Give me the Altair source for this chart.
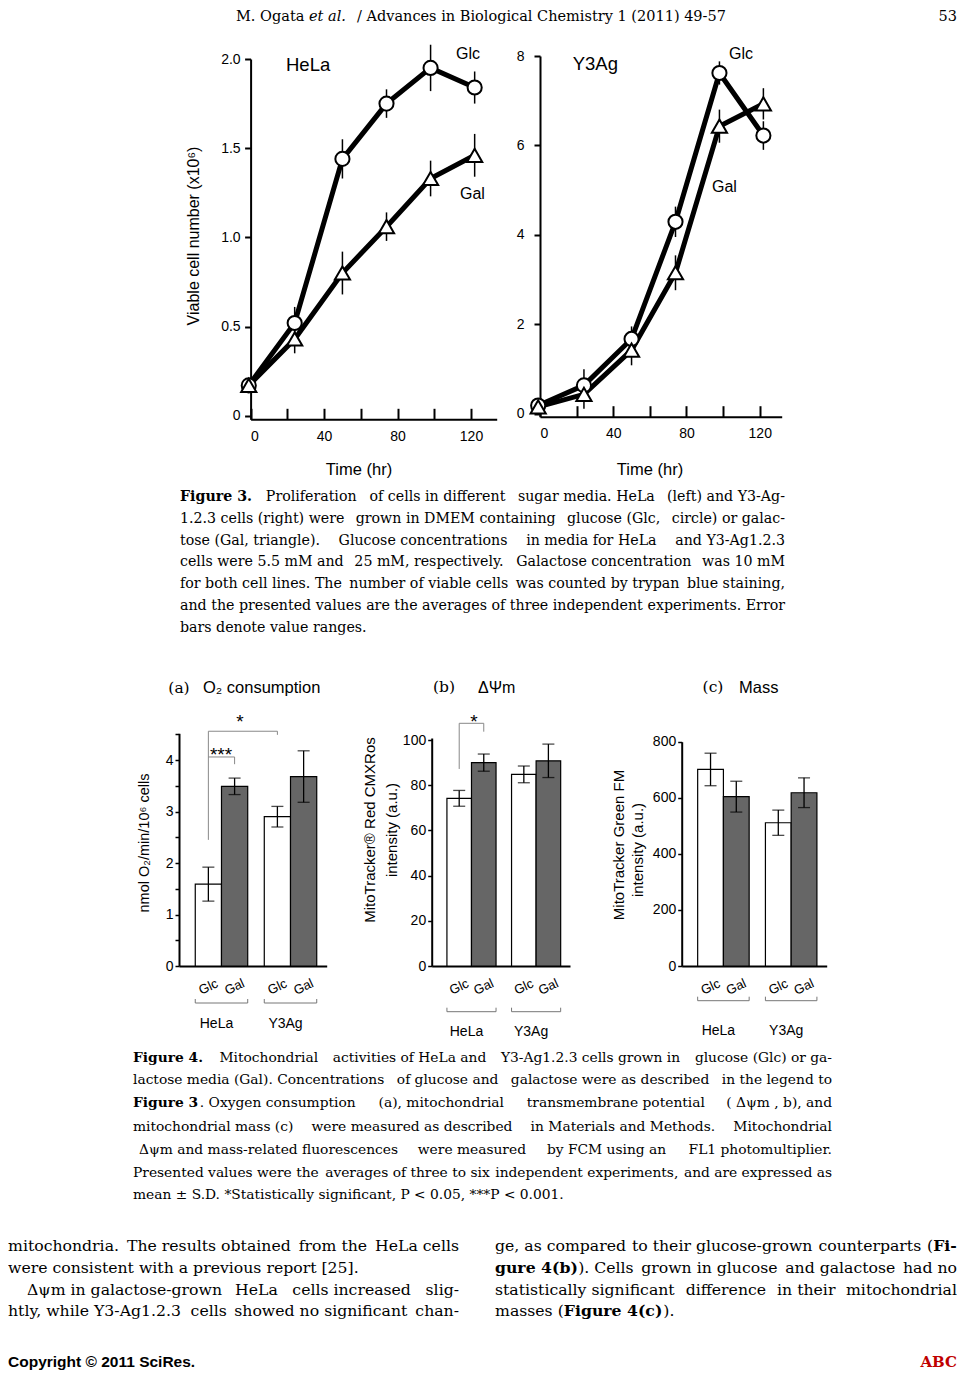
import re
import altair as alt
import pandas as pd

# ---------------- data ----------------
time_hr = [-1, 24, 50, 74, 98, 122]
hela_glc = [0.17, 0.52, 1.44, 1.75, 1.95, 1.84]
hela_glc_err = [0.03, 0.09, 0.11, 0.08, 0.13, 0.09]
hela_gal = [0.17, 0.43, 0.80, 1.06, 1.33, 1.46]
hela_gal_err = [0.03, 0.08, 0.12, 0.08, 0.10, 0.12]
y3_glc = [0.18, 0.63, 1.67, 4.29, 7.62, 6.22]
y3_glc_err = [0.08, 0.36, 0.28, 0.34, 0.26, 0.32]
y3_gal = [0.15, 0.43, 1.42, 3.15, 6.43, 6.93]
y3_gal_err = [0.08, 0.32, 0.34, 0.39, 0.37, 0.35]

cell_lines = ["HeLa", "HeLa", "Y3Ag", "Y3Ag"]
media = ["Glc", "Gal", "Glc", "Gal"]
o2_mean = [1.59, 3.49, 2.90, 3.68]
o2_sd = [0.33, 0.16, 0.20, 0.50]
dpsi_mean = [74.2, 90.0, 84.8, 90.8]
dpsi_sd = [3.5, 3.8, 3.7, 7.4]
mass_mean = [701, 604, 511, 618]
mass_sd = [58, 55, 45, 53]

# significance brackets
sig_a_cell = ["HeLa", "HeLa", "Y3Ag", "Y3Ag", "HeLa", "HeLa", "HeLa"]
sig_a_medium = ["Glc", "Glc", "Glc", "Glc", "Glc", "Gal", "Gal"]
sig_a_value = [2.45, 4.56, 4.56, 4.49, 4.06, 4.06, 3.92]
sig_a_order = [0, 1, 2, 3, 0, 1, 2]
sig_a_group = ["p05", "p05", "p05", "p05", "p001", "p001", "p001"]
sig_b_cell = ["HeLa", "HeLa", "HeLa", "HeLa"]
sig_b_medium = ["Glc", "Glc", "Gal", "Gal"]
sig_b_value = [87.2, 107.4, 107.4, 103.7]
sig_b_order = [0, 1, 2, 3]
sig_b_group = ["p05"] * 4

header_left = "M. Ogata"
header_italic = "et al."
header_right = "/ Advances in Biological Chemistry 1 (2011) 49-57"
page_number = "53"

fig3_caption = [
    "<b>Figure 3.</b> Proliferation of cells in different sugar media. HeLa (left) and Y3-Ag-",
    "1.2.3 cells (right) were grown in DMEM containing glucose (Glc, circle) or galac-",
    "tose (Gal, triangle). Glucose concentrations in media for HeLa and Y3-Ag1.2.3",
    "cells were 5.5 mM and 25 mM, respectively. Galactose concentration was 10 mM",
    "for both cell lines. The number of viable cells was counted by trypan blue staining,",
    "and the presented values are the averages of three independent experiments. Error",
    "bars denote value ranges.",
]
fig4_caption = [
    "<b>Figure 4.</b> Mitochondrial activities of HeLa and Y3-Ag1.2.3 cells grown in glucose (Glc) or ga-",
    "lactose media (Gal). Concentrations of glucose and galactose were as described in the legend to",
    "<b>Figure 3</b>. Oxygen consumption (a), mitochondrial transmembrane potential ( Δψm , b), and",
    "mitochondrial mass (c) were measured as described in Materials and Methods. Mitochondrial",
    "Δψm  and mass-related fluorescences were measured by FCM using an FL1 photomultiplier.",
    "Presented values were the averages of three to six independent experiments, and are expressed as",
    "mean ± S.D. *Statistically significant, P < 0.05, ***P < 0.001.",
]
body_left = [
    "mitochondria. The results obtained from the HeLa cells",
    "were consistent with a previous report [25].",
    "Δψm  in galactose-grown HeLa cells increased slig-",
    "htly, while Y3-Ag1.2.3 cells showed no significant chan-",
]
body_right = [
    "ge, as compared to their glucose-grown counterparts (<b>Fi-</b>",
    "<b>gure 4(b)</b>). Cells grown in glucose and galactose had no",
    "statistically significant difference in their mitochondrial",
    "masses (<b>Figure 4(c)</b>).",
]
footer_left = "Copyright © 2011 SciRes."
footer_right = "ABC"

# ---------------- layout helpers ----------------
W, H = 949, 1364
SANS = "Liberation Sans"
SERIF = "DejaVu Serif"

# approximate advance widths of DejaVu Serif (em), used to justify text lines
_CW = dict(zip("abcdefghijklmnopqrstuvwxyz",
               [0.596, 0.640, 0.560, 0.640, 0.592, 0.370, 0.640, 0.644, 0.320,
                0.306, 0.604, 0.320, 0.948, 0.644, 0.602, 0.640, 0.640, 0.478,
                0.513, 0.402, 0.644, 0.565, 0.856, 0.564, 0.565, 0.527]))
_CW.update(zip("ABCDEFGHIJKLMNOPQRSTUVWXYZ",
               [0.722, 0.735, 0.765, 0.802, 0.730, 0.694, 0.799, 0.872, 0.395,
                0.401, 0.747, 0.664, 1.024, 0.875, 0.820, 0.732, 0.820, 0.753,
                0.685, 0.667, 0.843, 0.722, 1.028, 0.712, 0.660, 0.695]))
_CW.update({d: 0.636 for d in "0123456789"})
_CW.update({" ": 0.318, ".": 0.318, ",": 0.318, "(": 0.390, ")": 0.390,
            "-": 0.338, "[": 0.390, "]": 0.390, "/": 0.337, ":": 0.337,
            ";": 0.337, "±": 0.838, "<": 0.838, "*": 0.500, "Δ": 0.70,
            "ψ": 0.70})


def est_width(s, size, bold=False):
    return sum(_CW.get(c, 0.6) for c in s) * size * (1.12 if bold else 1.0)


def px(x):
    return x - 8


def py(y):
    return y - 8


def txt(s, x, y, size, font=SANS, weight="normal", align="left",
        baseline="middle", angle=0, style="normal", color="black"):
    return alt.Chart(pd.DataFrame({"s": [s]})).mark_text(
        font=font, fontSize=size, fontWeight=weight, fontStyle=style,
        align=align, baseline=baseline, angle=angle, color=color
    ).encode(x=alt.value(px(x)), y=alt.value(py(y)), text="s:N")


def parse(line):
    parts = re.split(r"(<b>.*?</b>)", line)
    segs = []
    for p in parts:
        if not p:
            continue
        if p.startswith("<b>"):
            segs.append((p[3:-4], True))
        else:
            segs.append((p, False))
    return segs


def tokens_of(line):
    toks = []
    for text, bold in parse(line):
        pieces = text.split(" ")
        for j, p in enumerate(pieces):
            if p == "":
                continue
            sp = True
            if j == 0 and not text.startswith(" ") and toks:
                sp = False
            toks.append([p, bold, sp])
    return toks


def chunks_of(toks, ngroups):
    total = sum(len(t[0]) + 1 for t in toks)
    chunks = []
    cum = 0
    for word, bold, sp in toks:
        g = min(ngroups - 1, int(cum / total * ngroups))
        if chunks and chunks[-1]["bold"] == bold and (chunks[-1]["g"] == g or not sp):
            chunks[-1]["text"] += (" " if sp else "") + word
        else:
            chunks.append({"g": g, "bold": bold, "text": word, "sp": sp})
        cum += len(word) + 1
    return chunks


def paragraph(lines, xl, xr, ys, size, last_rows, indent=None, ngroups=4):
    out = []
    indent = indent or {}
    spw = est_width(" ", size)
    for i, (line, y) in enumerate(zip(lines, ys)):
        x0 = xl + indent.get(i, 0)
        just = i not in last_rows
        chunks = chunks_of(tokens_of(line), ngroups if just else 1)
        widths = [est_width(c["text"], size, c["bold"]) for c in chunks]
        nsp = sum(1 for c in chunks[1:] if c["sp"])
        natural = sum(widths) + nsp * spw
        extra = (xr - x0 - natural) / nsp if (just and nsp) else 0
        x = x0
        for k, (c, w) in enumerate(zip(chunks, widths)):
            if k > 0 and c["sp"]:
                x += spw + extra
            wt = "bold" if c["bold"] else "normal"
            if just and k == len(chunks) - 1 and k > 0 and c["sp"]:
                out.append(txt(c["text"], xr, y, size, SERIF, weight=wt, align="right"))
            else:
                out.append(txt(c["text"], x, y, size, SERIF, weight=wt))
            x += w
    return out


def growth_panel(glc, glc_err, gal, gal_err, x0, x1, xmax, y0, y1, ydom,
                 yvals, ylab, lpad):
    n = len(time_hr)
    df = pd.DataFrame({
        "t": time_hr + time_hr,
        "v": glc + gal,
        "e": glc_err + gal_err,
        "medium": ["Glc"] * n + ["Gal"] * n,
    })
    df["lo"] = df["v"] - df["e"]
    df["hi"] = df["v"] + df["e"]
    xs = alt.Scale(domain=[0, xmax], range=[px(x0), px(x1)], nice=False, zero=False)
    ys = alt.Scale(domain=ydom, range=[py(y0), py(y1)], nice=False, zero=False)
    X = alt.X("t:Q", scale=xs, axis=alt.Axis(
        orient="bottom", offset=py(y0) - H, values=[0, 20, 40, 60, 80, 100, 120],
        labelExpr="datum.value % 40 == 0 ? datum.label : ''",
        tickSize={"expr": "-11"}, tickWidth=2, tickColor="black",
        domainWidth=2, domainColor="black", labelPadding=21,
        labelFont=SANS, labelFontSize=14, labelColor="black",
        grid=False, title=None))
    Y = alt.Y("v:Q", scale=ys, axis=alt.Axis(
        orient="left", offset=-px(x0), values=yvals, labelExpr=ylab,
        tickSize=6, tickWidth=2, tickColor="black", domainWidth=2,
        domainColor="black", labelPadding=lpad, labelFont=SANS,
        labelFontSize=14, labelColor="black", grid=False, title=None))
    Xn = alt.X("t:Q", scale=xs, axis=None)
    Yn = alt.Y("v:Q", scale=ys, axis=None)
    base = alt.Chart(df)
    line = base.mark_line(color="black", strokeWidth=5).encode(
        x=X, y=Y, detail="medium:N")
    err = base.mark_rule(color="black", strokeWidth=1.5).encode(
        x=Xn, y=alt.Y("lo:Q", scale=ys, axis=None), y2="hi:Q")
    circ = base.transform_filter("datum.medium == 'Glc'").mark_point(
        shape="circle", filled=True, fill="white", stroke="black",
        strokeWidth=2, size=200, opacity=1).encode(x=Xn, y=Yn)
    tri = base.transform_filter("datum.medium == 'Gal'").mark_point(
        shape="triangle-up", filled=True, fill="white", stroke="black",
        strokeWidth=2, size=230, opacity=1).encode(x=Xn, y=Yn)
    return [line, err, circ, tri]


def bar_panel(mean, sd, x0, x1, y1, ydom, yvals, ylab, gpad, bracket_y,
              sig=None):
    df = pd.DataFrame({"cell": cell_lines, "medium": media, "m": mean, "sd": sd})
    df["lo"] = df["m"] - df["sd"]
    df["hi"] = df["m"] + df["sd"]
    y0 = 966
    xs = alt.Scale(type="band", domain=["HeLa", "Y3Ag"], range=[px(x0), px(x1)],
                   paddingInner=0.24, paddingOuter=0.19, align=0.62)
    xo = alt.Scale(type="band", domain=["Glc", "Gal"], paddingInner=0,
                   paddingOuter=0)
    ys = alt.Scale(domain=ydom, range=[py(y0), py(y1)], nice=False, zero=False)
    X = alt.X("cell:N", scale=xs, axis=alt.Axis(
        orient="bottom", offset=py(y0) - H, ticks=False, domainWidth=2,
        domainColor="black", labelPadding=gpad, labelAngle=0, labelOffset=-5,
        labelFont=SANS, labelFontSize=14, labelColor="black", title=None,
        grid=False))
    Xn = alt.X("cell:N", scale=xs, axis=None)
    XO = alt.XOffset("medium:N", scale=xo)
    Y = alt.Y("m:Q", scale=ys, axis=alt.Axis(
        orient="left", offset=-px(x0), values=yvals, labelExpr=ylab,
        tickSize=4, tickWidth=1.5, tickColor="black", domainWidth=2,
        domainColor="black", labelPadding=2, labelFont=SANS,
        labelFontSize=14, labelColor="black", grid=False, title=None))
    base = alt.Chart(df)
    bars = base.mark_bar(stroke="black", strokeWidth=1.2).encode(
        x=X, xOffset=XO, y=Y,
        fill=alt.Fill("medium:N", scale=alt.Scale(domain=["Glc", "Gal"],
                      range=["white", "#666666"]), legend=None))
    err = base.mark_rule(color="black", strokeWidth=1.3).encode(
        x=Xn, xOffset=XO, y=alt.Y("lo:Q", scale=ys, axis=None), y2="hi:Q")
    cap_lo = base.mark_tick(color="black", thickness=1.3, size=12,
                            orient="horizontal").encode(
        x=Xn, xOffset=XO, y=alt.Y("lo:Q", scale=ys, axis=None))
    cap_hi = base.mark_tick(color="black", thickness=1.3, size=12,
                            orient="horizontal").encode(
        x=Xn, xOffset=XO, y=alt.Y("hi:Q", scale=ys, axis=None))
    cat = base.mark_text(font=SANS, fontSize=13, angle=335, align="center",
                         baseline="middle", color="black").encode(
        x=Xn, xOffset=XO, y=alt.value(py(987)), text="medium:N")
    gdf = pd.DataFrame({"cell": ["HeLa", "Y3Ag"]})
    gbase = alt.Chart(gdf)
    hline = gbase.mark_rule(color="#777777", strokeWidth=1).encode(
        x=alt.X("cell:N", scale=xs, axis=None, bandPosition=0),
        x2=alt.X2("cell:N", bandPosition=1), y=alt.value(py(bracket_y)))
    lend = gbase.mark_rule(color="#777777", strokeWidth=1).encode(
        x=alt.X("cell:N", scale=xs, axis=None, bandPosition=0),
        y=alt.value(py(bracket_y)), y2=alt.value(py(bracket_y - 4)))
    rend = gbase.mark_rule(color="#777777", strokeWidth=1).encode(
        x=alt.X("cell:N", scale=xs, axis=None, bandPosition=1),
        y=alt.value(py(bracket_y)), y2=alt.value(py(bracket_y - 4)))
    layers = [bars, err, cap_lo, cap_hi, cat, hline, lend, rend]
    if sig is not None:
        sdf = pd.DataFrame({"cell": sig[0], "medium": sig[1], "v": sig[2],
                            "k": sig[3], "g": sig[4]})
        layers.append(alt.Chart(sdf).mark_line(color="#888888", strokeWidth=1).encode(
            x=Xn, xOffset=XO, y=alt.Y("v:Q", scale=ys, axis=None),
            order="k:Q", detail="g:N"))
    return layers


layers = []

# ---------------- header ----------------
layers += [
    txt(header_left, 236, 17, 14.5, SERIF),
    txt(header_italic, 309, 17, 14.5, SERIF, style="italic"),
    txt(header_right, 357, 17, 14.5, SERIF),
    txt(page_number, 957, 17, 14.5, SERIF, align="right"),
]

# ---------------- Figure 3 ----------------
layers += growth_panel(
    hela_glc, hela_glc_err, hela_gal, hela_gal_err,
    250.6, 496.7, 134, 419.3, 59, [-0.02, 2.0], [0, 0.5, 1, 1.5, 2],
    "datum.value == 0 ? '0' : format(datum.value, '.1f')", 4.5)
layers += growth_panel(
    y3_glc, y3_glc_err, y3_gal, y3_gal_err,
    540, 781.7, 132, 416.7, 56, [-0.07, 8.0], [0, 2, 4, 6, 8],
    "datum.label", 10)
layers += [
    txt("HeLa", 286, 65, 18.5),
    txt("Glc", 456, 54, 16),
    txt("Gal", 460, 194, 16),
    txt("Y3Ag", 572.7, 64, 18.5),
    txt("Glc", 729, 54, 16),
    txt("Gal", 712, 187, 16),
    txt("Time (hr)", 359, 470, 16.5, align="center"),
    txt("Time (hr)", 650, 470, 16.5, align="center"),
    txt("Viable cell number (x10⁶)", 194, 236, 16, align="center", angle=270),
]
layers += paragraph(fig3_caption, 180, 785,
                    [497 + 21.8 * i for i in range(7)], 14.2, {6})

# ---------------- Figure 4 ----------------
layers += bar_panel(
    o2_mean, o2_sd, 179, 326.7, 733.3, [0, 4.52],
    [0, 0.5, 1, 1.5, 2, 2.5, 3, 3.5, 4, 4.5],
    "datum.value % 1 == 0 ? format(datum.value, 'd') : ''", 50, 1003,
    (sig_a_cell, sig_a_medium, sig_a_value, sig_a_order, sig_a_group))
layers += bar_panel(
    dpsi_mean, dpsi_sd, 431.7, 570, 738, [0, 100.9], [0, 20, 40, 60, 80, 100],
    "datum.label", 58, 1011.7,
    (sig_b_cell, sig_b_medium, sig_b_value, sig_b_order, sig_b_group))
layers += bar_panel(
    mass_mean, mass_sd, 681.7, 826.7, 741.7, [0, 800], [0, 200, 400, 600, 800],
    "datum.label", 57, 1000.7)
layers += [
    txt("(a)", 179, 688, 15.5, SERIF, align="center"),
    txt("O₂ consumption", 203, 688, 16.5),
    txt("(b)", 444, 687, 15.5, SERIF, align="center"),
    txt("ΔΨm", 478, 688, 16),
    txt("(c)", 713, 687, 15.5, SERIF, align="center"),
    txt("Mass", 739, 688, 16.5),
    txt("*", 240, 722, 19, align="center"),
    txt("***", 221, 755, 19, align="center"),
    txt("*", 474, 722, 19, align="center"),
    txt("nmol O₂/min/10⁶ cells", 145, 843, 14.5, align="center", angle=270),
    txt("MitoTracker® Red CMXRos", 370, 830, 15, align="center", angle=270),
    txt("intensity (a.u.)", 392, 830, 15, align="center", angle=270),
    txt("MitoTracker Green FM", 619, 845, 15, align="center", angle=270),
    txt("intensity (a.u.)", 638, 850, 15, align="center", angle=270),
]
layers += paragraph(fig4_caption, 133, 832,
                    [1058, 1080, 1103, 1127, 1150, 1173, 1195], 13.8, {6},
                    indent={4: 6})

# ---------------- body text ----------------
body_y = [1246, 1268, 1290, 1311]
layers += paragraph(body_left, 8, 459, body_y, 15.7, {1}, indent={2: 19})
layers += paragraph(body_right, 495, 957, body_y, 15.7, {3})

# ---------------- footer ----------------
layers += [
    txt(footer_left, 8, 1362, 15.5, SANS, weight="bold"),
    txt(footer_right, 957, 1362, 15, SERIF, weight="bold", align="right",
        color="#c00000"),
]

chart = alt.layer(*layers).properties(
    width=W, height=H, padding=0, background="white",
    autosize=alt.AutoSizeParams(type="none")
).resolve_scale(
    x="independent", y="independent", xOffset="independent"
).resolve_axis(
    x="independent", y="independent"
).configure_view(stroke=None)

chart.save("out.html", embed_options={"renderer": "svg", "actions": False})
